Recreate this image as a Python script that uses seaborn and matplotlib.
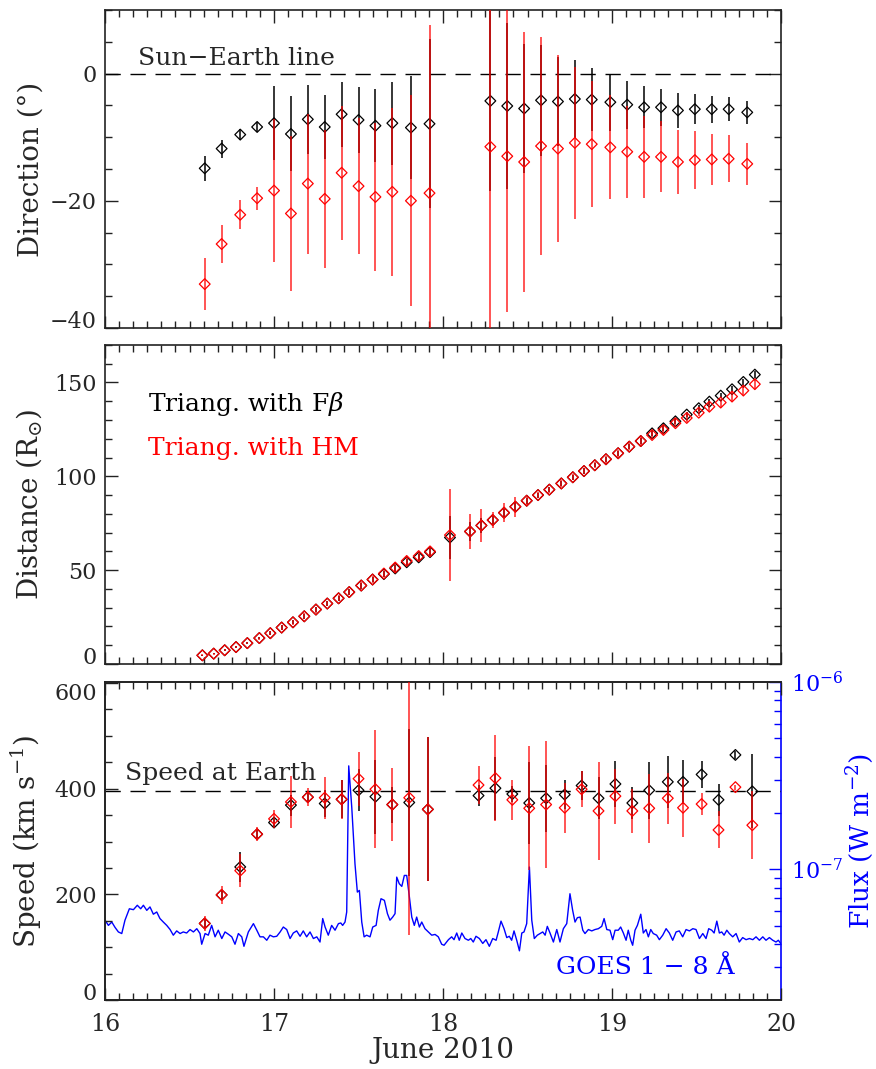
import numpy as np
import seaborn as sns
import matplotlib.pyplot as plt
from matplotlib.ticker import MultipleLocator, LogLocator, NullFormatter, FixedLocator

# -----------------------------------------------
# Data
# -----------------------------------------------

# propagation direction (deg from Sun-Earth line)
dir_time = [16.59, 16.69, 16.80, 16.90, 17.00, 17.10, 17.20, 17.30, 17.40, 17.50, 17.60, 17.70, 17.81, 17.92,
            18.28, 18.38, 18.48, 18.58, 18.68, 18.78, 18.88, 18.99, 19.09, 19.19, 19.29, 19.39, 19.49, 19.59,
            19.69, 19.80]
dir_fb = [-14.9, -11.8, -9.6, -8.4, -7.8, -9.5, -7.2, -8.4, -6.4, -7.3, -8.2, -7.8, -8.5, -7.9,
          -4.3, -5.1, -5.5, -4.2, -4.4, -4.0, -4.1, -4.5, -4.9, -5.3, -5.3, -5.8, -5.6, -5.6, -5.6, -6.1]
dir_fb_err = [2.0, 1.4, 0.9, 0.8, 5.8, 5.9, 5.4, 5.1, 5.1, 5.2, 5.7, 6.5, 8.1, 13.3,
              14.2, 13.1, 10.2, 8.7, 7.0, 6.1, 5.0, 4.5, 3.8, 3.3, 2.9, 2.7, 2.4, 2.1, 1.9, 1.8]
dir_hm = [-33.1, -26.8, -22.2, -19.6, -18.4, -22.0, -17.3, -19.7, -15.6, -17.7, -19.4, -18.6, -20.0, -18.8,
          -11.5, -13.0, -13.9, -11.4, -11.8, -10.9, -11.1, -11.6, -12.3, -13.1, -13.1, -13.9, -13.6, -13.5,
          -13.4, -14.2]
dir_hm_err = [4.1, 3.0, 2.3, 1.8, 11.2, 12.2, 11.0, 10.9, 10.5, 10.7, 11.7, 13.2, 16.6, 26.5,
              45.0, 24.5, 20.4, 17.1, 14.7, 11.9, 9.9, 8.2, 7.2, 6.4, 5.6, 5.0, 4.5, 4.0, 3.7, 3.3]

# elongation-converted distance (R_sun)
dist_time = [16.576, 16.643, 16.708, 16.775, 16.842, 16.913, 16.978, 17.045, 17.112, 17.179, 17.248,
             17.315, 17.382, 17.445, 17.516, 17.583, 17.650, 17.717, 17.785, 17.856, 17.923,
             18.041, 18.160, 18.227, 18.294, 18.361, 18.428, 18.495, 18.562, 18.629, 18.700, 18.768,
             18.834, 18.898, 18.964, 19.036, 19.102, 19.170, 19.237, 19.304, 19.375, 19.442, 19.513,
             19.576, 19.643, 19.710, 19.777, 19.845]
dist_hm = [4.6, 5.5, 7.3, 9.0, 11.1, 13.8, 16.4, 19.4, 22.2, 25.4, 29.0, 32.2, 35.0, 38.3, 41.8, 45.0,
           48.2, 51.4, 54.9, 57.5, 60.0,
           68.7, 70.6, 73.8, 76.7, 80.6, 83.8, 87.0, 90.0, 92.9, 96.2, 99.5, 102.8, 105.9, 109.1, 112.3,
           115.8, 118.8, 122.0, 124.7, 128.3, 131.1, 133.9, 137.1, 139.3, 142.5, 145.7, 149.1]
dist_hm_err = [0.5, 0.5, 0.6, 0.6, 0.7, 0.8, 1.2, 1.3, 1.2, 1.5, 1.6, 1.4, 1.7, 1.8, 2.0, 1.9, 2.1, 2.2,
               2.4, 2.3, 2.5,
               24.6, 9.3, 9.0, 4.3, 5.2, 5.3, 2.2, 1.8, 1.6, 1.9, 1.7, 1.8, 1.6, 1.9, 1.8, 2.0, 1.9, 2.1,
               2.0, 2.2, 2.1, 2.0, 2.2, 2.1, 2.3, 2.2, 2.4]
dist_fb = [4.6, 5.5, 7.3, 9.0, 11.1, 13.8, 16.4, 19.4, 22.2, 25.4, 29.0, 32.2, 35.0, 38.3, 41.8, 45.0,
           47.9, 50.9, 54.2, 56.8, 59.6,
           67.4, 70.6, 73.8, 76.7, 80.6, 83.8, 87.0, 90.0, 92.9, 96.2, 99.5, 102.8, 105.9, 109.1, 112.3,
           115.8, 118.8, 122.9, 125.6, 129.3, 132.9, 136.3, 139.8, 143.0, 146.4, 150.3, 154.2]
dist_fb_err = [0.4, 0.4, 0.5, 0.5, 0.6, 0.7, 1.0, 1.1, 1.0, 1.2, 1.3, 1.2, 1.4, 1.5, 1.6, 1.5, 1.7, 1.8,
               1.9, 1.9, 2.0,
               11.5, 5.0, 4.0, 2.0, 2.2, 2.5, 1.5, 1.3, 1.2, 1.4, 1.3, 1.4, 1.2, 1.4, 1.3, 1.5, 1.4, 1.6,
               1.5, 1.6, 1.5, 1.5, 1.6, 1.5, 1.7, 1.6, 1.8]

# speed (km/s)
spd_time = [16.59, 16.69, 16.80, 16.90, 17.00, 17.10, 17.20, 17.30, 17.40, 17.50, 17.60, 17.70, 17.80, 17.91,
            18.21, 18.31, 18.41, 18.51, 18.61, 18.72, 18.82, 18.92, 19.02, 19.12, 19.22, 19.33, 19.42, 19.53,
            19.63, 19.73, 19.83]
spd_fb = [145, 199, 252, 314, 336, 369, 384, 372, 380, 397, 385, 370, 374, 361,
          387, 401, 390, 373, 382, 389, 406, 382, 409, 373, 397, 413, 413, 427, 379, 464, 395]
spd_fb_err = [8, 10, 28, 8, 10, 20, 10, 25, 36, 40, 70, 34, 139, 136,
              20, 60, 15, 77, 63, 27, 27, 40, 43, 30, 54, 49, 41, 26, 30, 8, 70]
spd_hm = [145, 199, 245, 314, 343, 375, 384, 383, 380, 419, 399, 370, 383, 361,
          407, 420, 379, 363, 370, 364, 399, 358, 386, 358, 363, 382, 364, 371, 322, 403, 331]
spd_hm_err = [15, 17, 31, 13, 17, 49, 17, 40, 37, 51, 112, 69, 260, 136,
              36, 82, 38, 117, 120, 47, 34, 92, 52, 41, 65, 48, 55, 20, 35, 5, 64]
earth_speed = 395

# GOES 1-8 A flux (1e-8 W m^-2)
goes_time = [16.000, 16.020, 16.040, 16.059, 16.079, 16.099, 16.118, 16.144, 16.168, 16.191, 16.211, 16.227,
             16.247, 16.266, 16.286, 16.306, 16.325, 16.345, 16.365, 16.385, 16.404, 16.424, 16.444, 16.463,
             16.483, 16.503, 16.523, 16.543, 16.562, 16.572, 16.592, 16.611, 16.631, 16.651, 16.670, 16.691,
             16.710, 16.730, 16.750, 16.769, 16.789, 16.809, 16.822, 16.848, 16.878, 16.898, 16.917, 16.937,
             16.957, 16.976, 16.996, 17.016, 17.036, 17.055, 17.075, 17.095, 17.114, 17.134, 17.154, 17.173,
             17.193, 17.213, 17.233, 17.253, 17.272, 17.288, 17.302, 17.321, 17.341, 17.361, 17.381, 17.395,
             17.406, 17.420, 17.430, 17.442, 17.460, 17.479, 17.493, 17.505, 17.519, 17.533, 17.548, 17.568,
             17.584, 17.604, 17.617, 17.633, 17.653, 17.671, 17.686, 17.702, 17.716, 17.726, 17.741, 17.756,
             17.771, 17.785, 17.801, 17.815, 17.830, 17.844, 17.860, 17.874, 17.893, 17.913, 17.933, 17.953,
             17.972, 17.992, 18.006, 18.032, 18.051, 18.065, 18.081, 18.096, 18.111, 18.130, 18.150, 18.164,
             18.179, 18.195, 18.215, 18.235, 18.254, 18.274, 18.294, 18.314, 18.327, 18.343, 18.361, 18.377,
             18.392, 18.406, 18.420, 18.436, 18.452, 18.466, 18.479, 18.495, 18.511, 18.525, 18.540, 18.558,
             18.574, 18.590, 18.604, 18.617, 18.633, 18.653, 18.673, 18.692, 18.712, 18.732, 18.751, 18.767,
             18.781, 18.795, 18.811, 18.827, 18.840, 18.860, 18.880, 18.899, 18.919, 18.939, 18.953, 18.969,
             18.988, 19.004, 19.018, 19.037, 19.051, 19.067, 19.083, 19.096, 19.111, 19.122, 19.136, 19.150,
             19.170, 19.185, 19.201, 19.215, 19.229, 19.244, 19.264, 19.280, 19.300, 19.320, 19.339, 19.359,
             19.379, 19.398, 19.418, 19.438, 19.458, 19.478, 19.497, 19.517, 19.537, 19.556, 19.572, 19.590,
             19.604, 19.620, 19.635, 19.649, 19.663, 19.679, 19.694, 19.714, 19.734, 19.753, 19.773, 19.793,
             19.813, 19.833, 19.852, 19.872, 19.892, 19.911, 19.931, 19.951, 19.970, 19.984, 19.998]
goes_flux = [5.36, 5.03, 5.24, 4.91, 4.64, 4.55, 5.36, 6.17, 6.10, 6.44, 6.17, 6.44,
             6.05, 6.31, 5.77, 5.93, 5.47, 5.24, 5.03, 4.78, 4.46, 4.70, 4.55, 4.64,
             4.58, 4.78, 4.64, 4.83, 4.55, 3.99, 4.55, 4.46, 5.03, 4.37, 4.74, 4.28,
             4.64, 4.51, 4.37, 3.99, 4.55, 4.37, 3.89, 4.64, 5.14, 4.74, 4.37, 4.37,
             4.19, 4.46, 4.37, 4.40, 4.64, 4.93, 4.78, 4.28, 4.58, 4.70, 4.40, 4.70,
             4.37, 4.64, 4.28, 4.37, 4.10, 5.47, 4.93, 4.46, 5.03, 4.74, 5.14, 5.18,
             5.03, 5.24, 5.93, 35.7, 21.4, 10.7, 7.57, 7.73, 5.24, 4.37, 4.46, 4.37,
             4.93, 5.03, 6.05, 6.98, 6.84, 5.81, 5.36, 5.57, 5.81, 9.10, 8.39, 8.12,
             9.29, 9.29, 7.12, 5.57, 5.03, 5.57, 4.93, 5.24, 4.83, 4.64, 4.46, 4.50,
             4.37, 3.99, 3.94, 4.22, 4.37, 4.22, 4.58, 4.19, 4.58, 4.28, 4.19, 4.28,
             4.10, 4.40, 4.28, 4.03, 4.22, 3.89, 4.28, 4.19, 4.64, 5.30, 4.83, 4.33,
             4.40, 4.19, 4.70, 4.19, 3.68, 4.58, 4.64, 5.14, 10.3, 5.36, 4.28, 4.46,
             4.55, 4.64, 4.46, 4.97, 4.58, 4.10, 4.78, 4.10, 4.83, 5.14, 7.42, 6.05,
             5.24, 5.53, 5.57, 4.74, 4.55, 4.78, 4.70, 4.78, 4.83, 4.97, 5.47, 4.78,
             4.74, 4.22, 4.74, 4.74, 4.93, 4.58, 4.19, 4.74, 4.19, 3.94, 4.74, 5.03,
             5.77, 4.58, 4.78, 4.37, 4.78, 4.55, 4.46, 4.22, 4.46, 4.83, 4.58, 4.19,
             4.64, 4.70, 4.37, 4.78, 4.70, 4.83, 4.78, 4.28, 4.55, 4.28, 4.83, 4.74,
             4.58, 5.30, 4.58, 4.64, 4.46, 4.74, 4.55, 4.37, 4.55, 4.10, 4.33, 4.22,
             4.28, 4.22, 4.37, 4.19, 4.37, 4.19, 4.33, 4.19, 4.10, 4.19, 4.03]
goes_flux = np.array(goes_flux) * 1e-8

# -----------------------------------------------
# Style
# -----------------------------------------------

sns.set_theme(style='ticks')
plt.rcParams['font.family'] = ['DejaVu Serif']
plt.rcParams['mathtext.fontset'] = 'dejavuserif'
plt.rcParams['axes.linewidth'] = 1.2
plt.rcParams['axes.edgecolor'] = '#222222'

fs_tick = 16
fs_label = 20
fs_text = 18
red = '#ff0000'


def style_axis(ax, yticks, yminor, right_ticks=True):
    ax.set_xlim(16, 20)
    ax.xaxis.set_major_locator(MultipleLocator(1))
    ax.xaxis.set_minor_locator(MultipleLocator(1 / 12))
    ax.yaxis.set_major_locator(FixedLocator(yticks))
    ax.yaxis.set_minor_locator(MultipleLocator(yminor))
    ax.tick_params(which='both', direction='in', top=True, right=right_ticks,
                   labelsize=fs_tick, color='#222222', width=1)
    ax.tick_params(which='major', length=9, pad=6)
    ax.tick_params(which='minor', length=5)
    ax.yaxis.set_label_coords(-0.09, 0.5)


def draw_pairs(ax, t, fb, fb_err, hm, hm_err):
    ax.errorbar(t, fb, yerr=fb_err, fmt='none', ecolor='black', elinewidth=1.1, capsize=0, zorder=2)
    sns.scatterplot(x=t, y=fb, ax=ax, marker='D', s=30, facecolor='none', edgecolor='black',
                    linewidth=0.9, zorder=3)
    ax.errorbar(t, hm, yerr=hm_err, fmt='none', ecolor=red, elinewidth=1.1, capsize=0, alpha=0.85, zorder=4)
    sns.scatterplot(x=t, y=hm, ax=ax, marker='D', s=30, facecolor='none', edgecolor=red,
                    linewidth=0.9, zorder=5)


fig = plt.figure(figsize=(8.76, 10.69), dpi=100)
ax1 = fig.add_axes([0.1199, 0.6932, 0.7717, 0.2975])
ax2 = fig.add_axes([0.1199, 0.3789, 0.7717, 0.2984])
ax3 = fig.add_axes([0.1199, 0.0645, 0.7717, 0.2975])

# -----------------------------------------------
# Direction
# -----------------------------------------------

draw_pairs(ax1, dir_time, dir_fb, dir_fb_err, dir_hm, dir_hm_err)
ax1.axhline(0, color='black', lw=1.0, linestyle=(0, (11, 7)), zorder=1)
ax1.text(16.195, 0.6, 'Sun\u2212Earth line', fontsize=fs_text, va='bottom', ha='left')
ax1.set_ylim(-40, 10)
style_axis(ax1, [-40, -20, 0], 5)
ax1.set_ylabel('Direction (\u00b0)', fontsize=fs_label)
ax1.tick_params(labelbottom=False)

# -----------------------------------------------
# Distance
# -----------------------------------------------

draw_pairs(ax2, dist_time, dist_fb, dist_fb_err, dist_hm, dist_hm_err)
ax2.text(16.254, 138.6, r'Triang. with F$\beta$', fontsize=fs_text, va='center', ha='left', color='black')
ax2.text(16.254, 114.6, 'Triang. with HM', fontsize=fs_text, va='center', ha='left', color=red)
ax2.set_ylim(0, 170)
style_axis(ax2, [0, 50, 100, 150], 10)
ax2.set_ylabel(r'Distance (R$_{\odot}$)', fontsize=fs_label)
ax2.tick_params(labelbottom=False)

# -----------------------------------------------
# Speed + GOES flux
# -----------------------------------------------

ax3r = ax3.twinx()
ax3r.set_yscale('log')
sns.lineplot(x=goes_time, y=goes_flux, ax=ax3r, color='blue', lw=1.0, estimator=None, sort=False)
ax3r.set_ylim(2.01e-8, 1e-6)
ax3r.set_xlim(16, 20)
ax3r.yaxis.set_major_locator(LogLocator(base=10))
ax3r.yaxis.set_minor_locator(LogLocator(base=10, subs=[2, 3, 4, 5, 6, 7, 8, 9]))
ax3r.yaxis.set_minor_formatter(NullFormatter())
ax3r.tick_params(which='both', direction='in', colors='blue', labelsize=fs_tick, width=1)
ax3r.tick_params(which='major', length=9, pad=7)
ax3r.tick_params(which='minor', length=5)
ax3r.spines['right'].set_color('blue')
ax3r.set_ylabel('Flux (W m$^{-2}$)', fontsize=19, color='blue')
ax3r.yaxis.set_label_coords(1.093, 0.5)

ax3.set_zorder(ax3r.get_zorder() + 1)
ax3.patch.set_visible(False)
ax3.spines['right'].set_visible(False)

draw_pairs(ax3, spd_time, spd_fb, spd_fb_err, spd_hm, spd_hm_err)
ax3.axhline(earth_speed, color='black', lw=1.0, linestyle=(0, (11, 7)), zorder=1)
ax3.text(16.118, earth_speed + 12, 'Speed at Earth', fontsize=fs_text, va='bottom', ha='left')
ax3.text(18.67, 40, 'GOES 1 \u2212 8 \u00c5', fontsize=fs_text, va='bottom', ha='left', color='blue')
ax3.set_ylim(0, 602)
style_axis(ax3, [0, 200, 400, 600], 50, right_ticks=False)
ax3.tick_params(axis='x', which='major', pad=9, labelsize=17)
ax3.set_ylabel('Speed (km s$^{-1}$)', fontsize=fs_label)
ax3.set_xlabel('June 2010', fontsize=fs_label, labelpad=1)

# keep edge tick labels inside their panel, as the original does
fig.canvas.draw()
for ax in [ax1, ax2, ax3]:
    ax.get_yticklabels()[0].set_va('baseline')
ax3.get_yticklabels()[-1].set_va('top')

plt.savefig('out.png', dpi=100)
